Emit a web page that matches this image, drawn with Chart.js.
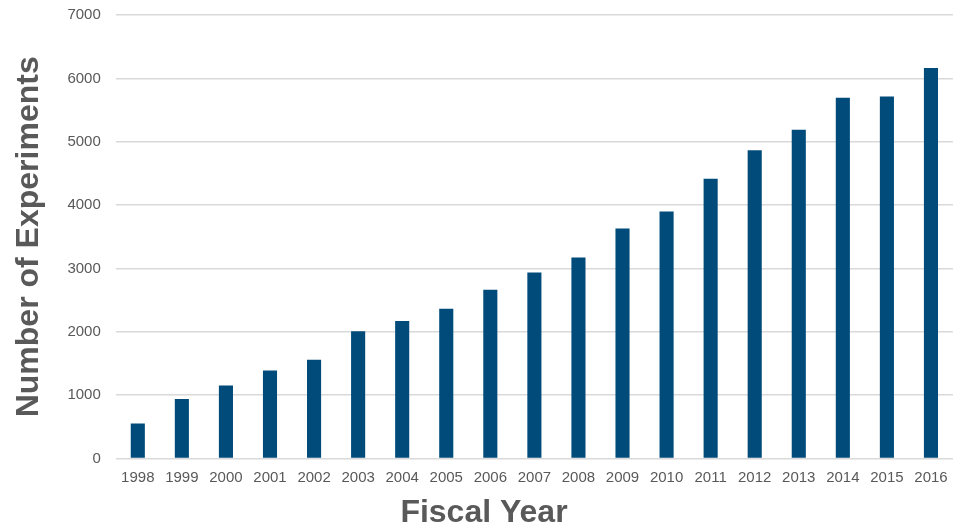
<!DOCTYPE html>
<html>
<head>
<meta charset="utf-8">
<script src="https://cdn.jsdelivr.net/npm/chart.js@4/dist/chart.umd.min.js"></script>
<style>
  html, body { margin: 0; padding: 0; background: #fff; }
  #wrap { width: 953px; height: 525px; }
</style>
</head>
<body>
<div id="wrap"><canvas id="chart" width="953" height="525"></canvas></div>
<script>
const years = ['1998','1999','2000','2001','2002','2003','2004','2005','2006','2007',
               '2008','2009','2010','2011','2012','2013','2014','2015','2016'];
const experiments = [555, 940, 1155, 1390, 1560, 2010, 2170, 2365, 2665, 2935,
                     3175, 3630, 3900, 4415, 4865, 5190, 5695, 5715, 6165];
const yTicks = [0, 1000, 2000, 3000, 4000, 5000, 6000, 7000];

const ctx = document.getElementById('chart').getContext('2d');
const textGrey = '#595959';
const fontFamily = 'Liberation Sans, Arial, sans-serif';

new Chart(ctx, {
  type: 'bar',
  data: {
    labels: years,
    datasets: [{
      label: 'Number of Experiments',
      data: experiments,
      backgroundColor: '#004B7A',
      borderWidth: 0,
      categoryPercentage: 1,
      barPercentage: 0.32
    }]
  },
  options: {
    responsive: false,
    animation: false,
    layout: { padding: { left: 10, right: -5, top: 0, bottom: 0 } },
    plugins: {
      legend: { display: false },
      tooltip: { enabled: false },
      title: {
        display: true,
        position: 'bottom',
        text: 'Fiscal Year',
        color: textGrey,
        font: { family: fontFamily, size: 32, weight: 'bold' },
        padding: { top: -3, bottom: -7 }
      }
    },
    scales: {
      x: {
        grid: { display: false, drawTicks: false },
        border: { display: false },
        afterFit: function(axis) {
          axis.paddingLeft = 0;
          axis.paddingRight = 0;
        },
        ticks: {
          color: textGrey,
          font: { family: fontFamily, size: 15 },
          padding: 10,
          maxRotation: 0,
          autoSkip: false
        }
      },
      y: {
        min: 0,
        max: 7000,
        afterBuildTicks: function(axis) {
          axis.ticks = yTicks.map(v => ({ value: v }));
        },
        afterFit: function(axis) {
          axis.paddingTop = 15;
        },
        grid: { color: '#d9d9d9', lineWidth: 1.5, drawTicks: false },
        border: { display: false },
        ticks: {
          color: textGrey,
          font: { family: fontFamily, size: 15 },
          padding: 15,
          callback: function(value) { return String(value); }
        },
        title: {
          display: true,
          text: 'Number of Experiments',
          color: textGrey,
          font: { family: fontFamily, size: 32, weight: 'bold' },
          padding: { top: 0, bottom: 4 }
        }
      }
    }
  }
});
</script>
</body>
</html>
